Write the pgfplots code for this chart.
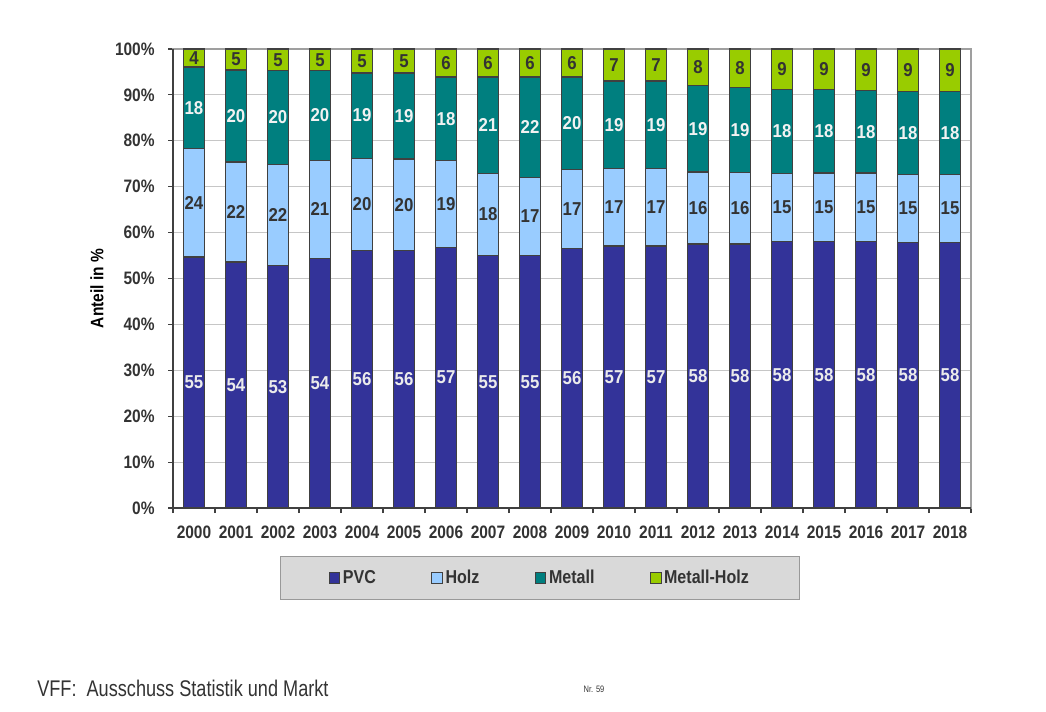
\documentclass[border=0pt]{standalone}
\usepackage{fontspec}
\setmainfont{Liberation Sans}[FakeStretch=0.86]
\newfontfamily\footfont{Liberation Sans}[FakeStretch=0.8]
\newfontfamily\barfont{Liberation Sans}[FakeStretch=0.9]
\usepackage{pgfplots}
\usepackage{pgfplotstable}
\pgfplotsset{compat=1.18}

\definecolor{pvc}{HTML}{333399}
\definecolor{holz}{HTML}{99CCFF}
\definecolor{metall}{HTML}{007F7F}
\definecolor{mholz}{HTML}{99CC00}
\definecolor{edge}{HTML}{404040}
\definecolor{txt}{HTML}{333333}
\definecolor{legbg}{HTML}{D9D9D9}

% h = bar height, l = printed label
\pgfplotstableread{
x  h1   l1 h2   l2 h3   l3 h4  l4
0  54.7 55 23.6 24 17.8 18 3.9 4
1  53.6 54 21.8 22 20.0 20 4.6 5
2  52.9 53 22.0 22 20.4 20 4.7 5
3  54.4 54 21.3 21 19.6 20 4.7 5
4  56.1 56 20.1 20 18.6 19 5.2 5
5  56.1 56 19.9 20 18.8 19 5.2 5
6  56.8 57 18.9 19 18.2 18 6.1 6
7  55.0 55 17.9 18 21.0 21 6.1 6
8  55.0 55 17.0 17 21.9 22 6.1 6
9  56.6 56 17.1 17 20.2 20 6.1 6
10 57.1 57 16.9 17 19.0 19 7.0 7
11 57.1 57 16.9 17 19.0 19 7.0 7
12 57.5 58 15.7 16 18.9 19 7.9 8
13 57.5 58 15.6 16 18.5 19 8.4 8
14 58.0 58 14.9 15 18.3 18 8.8 9
15 58.0 58 15.0 15 18.2 18 8.8 9
16 58.0 58 15.0 15 18.0 18 9.0 9
17 57.9 58 14.8 15 18.1 18 9.2 9
18 57.9 58 14.8 15 18.1 18 9.2 9
}\shares

\newcommand\lblfont{\bfseries\fontsize{13.5}{14}\selectfont}

% stacked bars: pgfplots already puts the labels mid-segment
\pgfplotsset{
  seg/.style n args={2}{
    fill=#1, draw=edge, line width=1pt,
    nodes near coords, point meta=explicit symbolic,
    every node near coord/.append style={font=\barfont\bfseries\fontsize{14}{14}\selectfont,
      text=#2, anchor=center, inner sep=0pt},
  },
}

\begin{document}
\begin{tikzpicture}
\useasboundingbox (0,0) rectangle (784.5pt,533.25pt);
\begin{axis}[
  at={(129.75pt,152.25pt)}, anchor=south west,
  scale only axis, width=598.5pt, height=344.25pt,
  ybar stacked, bar width=15.75pt,
  xmin=-0.5, xmax=18.5, ymin=0, ymax=100,
  xtick={0,...,18},
  xticklabels={2000,2001,2002,2003,2004,2005,2006,2007,2008,2009,2010,2011,2012,2013,2014,2015,2016,2017,2018},
  minor xtick={-0.5,0.5,...,18.5},
  ytick={0,10,...,100},
  yticklabel={\pgfmathprintnumber[assume math mode=true]{\tick}\%},
  tick pos=left, tick align=outside,
  major tick length=3.75pt, minor tick length=3.75pt,
  major x tick style={draw=none},
  tick style={draw=edge, line width=0.8pt},
  ticklabel style={font=\lblfont, text=txt},
  yticklabel style={xshift=-6.5pt},
  xticklabel style={yshift=-6pt},
  ymajorgrids, major grid style={draw=gray!45, line width=0.8pt},
  axis line style={draw=gray!75, line width=1pt},
  ylabel={Anteil in \%},
  every axis y label/.style={at={(axis description cs:-0.0952,0.478)},
    rotate=90, anchor=center, font=\lblfont, text=black},
  legend style={at={(0.46,-0.1525)}, anchor=center, fill=legbg,
    draw=gray!80, line width=1pt, legend columns=4,
    inner xsep=36pt, inner ysep=8.5pt,
    font=\bfseries\fontsize{14}{14}\selectfont, text=txt,
    /tikz/every even column/.append style={column sep=39.5pt}},
  legend image code/.code={\draw[#1, draw=edge, line width=0.7pt] (0pt,-4pt) rectangle (8pt,4pt);},
  after end axis/.code={
    \draw[edge, line width=1.4pt] (rel axis cs:0,1) -- (rel axis cs:0,0) -- (rel axis cs:1,0);
  },
]
\addplot[seg={pvc}{white!92!black}] table[x=x, y=h1, meta=l1] {\shares};
\addplot[seg={holz}{txt}] table[x=x, y=h2, meta=l2] {\shares};
\addplot[seg={metall}{white!95!black}] table[x=x, y=h3, meta=l3] {\shares};
\addplot[seg={mholz}{txt}] table[x=x, y=h4, meta=l4] {\shares};
\legend{PVC, Holz, Metall, Metall-Holz}
\end{axis}
\node[anchor=west, font=\footfont\fontsize{17}{17}\selectfont, text=txt, inner sep=0pt]
  at (27.75pt,17.25pt) {VFF:\ \ Ausschuss Statistik und Markt};
\node[font=\footfont\fontsize{7}{7}\selectfont, text=txt, inner sep=0pt]
  at (445.5pt,16.5pt) {Nr. 59};
\end{tikzpicture}
\end{document}
